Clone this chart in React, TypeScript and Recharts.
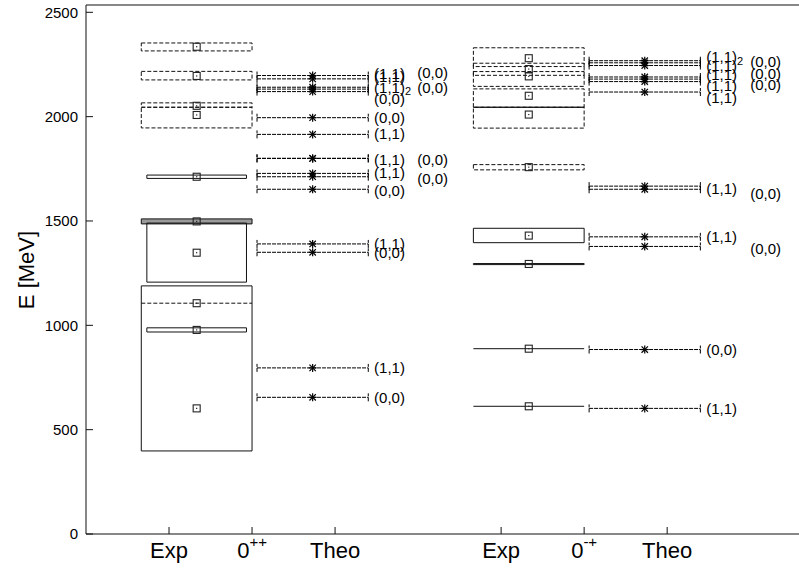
import React from 'react';
import {
  ComposedChart,
  XAxis,
  YAxis,
  Scatter,
  ErrorBar,
  ReferenceArea,
  ReferenceLine,
} from 'recharts';

const FONT = '"Liberation Sans", Arial, Helvetica, sans-serif';

const xTicks = [1, 2, 3, 5, 6, 7];
const xTickLabels = ['Exp', '0++', 'Theo', 'Exp', '0-+', 'Theo'];
const yTicks = [0, 500, 1000, 1500, 2000, 2500];

// 0++ experiment: mass and band edges in MeV
const expPPMass = [2335, 2195, 2052, 2008, 1712, 1498, 1348, 1106, 978, 602];
const expPPLow = [2315, 2176, 2045, 1946, 1704, 1486, 1207, 1106, 968, 398];
const expPPHigh = [2353, 2217, 2066, 2045, 1720, 1510, 1490, 1106, 988, 1189];
const expPPKind = ['dash', 'dash', 'dash', 'dash', 'narrow', 'shade', 'narrow', 'dash', 'narrow', 'solid'];

// 0-+ experiment
const expPMMass = [2280, 2228, 2193, 2100, 2010, 1758, 1430, 1294, 888, 612];
const expPMLow = [2240, 2198, 2145, 2045, 1945, 1745, 1396, 1291, 888, 612];
const expPMHigh = [2330, 2256, 2216, 2133, 2045, 1770, 1465, 1296, 888, 612];
const expPMKind = ['dash', 'dash', 'dash', 'dash', 'dash', 'dash', 'solid', 'solid', 'solid', 'solid'];
const expPMExtraLines = [2045];

// theory levels
const theoPP = [2197, 2181, 2141, 2132, 2120, 1995, 1915, 1800, 1800, 1728, 1712, 1652, 1390, 1350, 796, 655];
const theoPM = [2268, 2258, 2245, 2190, 2180, 2168, 2118, 1667, 1652, 1424, 1378, 884, 602];

// level labels (text, energy)
const labPPLeft: [string, number][] = [
  ['(1,1)', 2205], ['(1,1)', 2192], ['(1,1)_2', 2140], ['(0,0)', 2088],
  ['(0,0)', 1998], ['(1,1)', 1918], ['(1,1)', 1795], ['(1,1)', 1730],
  ['(0,0)', 1648], ['(1,1)', 1392], ['(0,0)', 1348], ['(1,1)', 797], ['(0,0)', 656],
];
const labPPRight: [string, number][] = [
  ['(0,0)', 2212], ['(0,0)', 2138], ['(0,0)', 1795], ['(0,0)', 1702],
];
const labPMLeft: [string, number][] = [
  ['(1,1)_2', 2286], ['(1,1)', 2243], ['(1,1)', 2200], ['(1,1)', 2147], ['(1,1)', 2094],
  ['(1,1)', 1657], ['(1,1)', 1424], ['(0,0)', 884], ['(1,1)', 602],
];
const labPMRight: [string, number][] = [
  ['(0,0)', 2266], ['(0,0)', 2209], ['(0,0)', 2156], ['(0,0)', 1633], ['(0,0)', 1368],
];

// layout in axis units
const PP_EXP = 1.333;
const PP_THEO = 2.73;
const PM_EXP = 5.333;
const PM_THEO = 6.73;
const THEO_HALF = 0.67;

const Square = (p: any) => (
  <g>
    <rect x={p.cx - 3.5} y={p.cy - 3.5} width={7} height={7} fill="none" stroke="#222" strokeWidth={1.1} />
    <rect x={p.cx - 0.6} y={p.cy - 0.6} width={1.2} height={1.2} fill="#222" />
  </g>
);

const Star = (p: any) => {
  const r = 4;
  return (
    <g stroke="#000" strokeWidth={1.2}>
      <line x1={p.cx - r} y1={p.cy} x2={p.cx + r} y2={p.cy} />
      <line x1={p.cx} y1={p.cy - r} x2={p.cx} y2={p.cy + r} />
      <line x1={p.cx - r * 0.8} y1={p.cy - r * 0.8} x2={p.cx + r * 0.8} y2={p.cy + r * 0.8} />
      <line x1={p.cx - r * 0.8} y1={p.cy + r * 0.8} x2={p.cx + r * 0.8} y2={p.cy - r * 0.8} />
    </g>
  );
};

const LevelLabel = (p: any) => {
  const [main, sub] = String(p.payload.t).split('_');
  return (
    <text x={p.cx} y={p.cy} dominantBaseline="central" fontSize={15} fontFamily={FONT} fill="#000">
      {main}
      {sub && (
        <tspan fontSize={11} dy={4}>
          {sub}
        </tspan>
      )}
    </text>
  );
};

const XTick = (p: any) => {
  const lab = xTickLabels[xTicks.indexOf(p.payload.value)] || '';
  const isState = lab.startsWith('0');
  return (
    <text x={p.x} y={p.y} dy="0.72em" textAnchor="middle" fontSize={22} fontFamily={FONT} fill="#000">
      {isState ? '0' : lab}
      {isState && (
        <tspan fontSize={15} dy={-11}>
          {lab.slice(1)}
        </tspan>
      )}
    </text>
  );
};

function expShapes(mass: number[], lo: number[], hi: number[], kind: string[], cx: number, key: string) {
  return kind.map((k, i) => {
    const half = k === 'narrow' ? 0.6 : 0.667;
    const dash = k === 'dash' ? '4 2' : undefined;
    if (lo[i] === hi[i]) {
      return (
        <ReferenceLine
          key={`${key}l${i}`}
          xAxisId="b"
          yAxisId="l"
          segment={[{ x: cx - half, y: mass[i] }, { x: cx + half, y: mass[i] }]}
          stroke="#111"
          strokeWidth={1}
          strokeDasharray={dash}
        />
      );
    }
    return (
      <ReferenceArea
        key={`${key}a${i}`}
        xAxisId="b"
        yAxisId="l"
        x1={cx - half}
        x2={cx + half}
        y1={lo[i]}
        y2={hi[i]}
        fill={k === 'shade' ? '#9a9a9a' : 'none'}
        fillOpacity={1}
        stroke="#111"
        strokeWidth={1}
        strokeDasharray={dash}
      />
    );
  });
}

const labelData = (list: [string, number][], x: number) => list.map(([t, e]) => ({ x, y: e, t }));

export default function App() {
  return (
    <div style={{ position: 'absolute', left: 0, top: 0, width: 799, height: 568, overflow: 'hidden', background: '#fff' }}>
      <ComposedChart width={801} height={568} margin={{ top: 4, right: 0, bottom: 0, left: 0 }}>
        <XAxis
          xAxisId="b"
          type="number"
          dataKey="x"
          domain={[0, 8.6]}
          ticks={xTicks}
          interval={0}
          allowDataOverflow
          orientation="bottom"
          height={34}
          tickSize={-7}
          tickMargin={15}
          stroke="#111"
          tick={(p: any) => <XTick {...p} />}
        />
        <XAxis
          xAxisId="t"
          type="number"
          dataKey="x"
          domain={[0, 8.6]}
          ticks={xTicks}
          interval={0}
          allowDataOverflow
          orientation="top"
          height={1}
          tickSize={-7}
          stroke="#111"
          tick={false}
        />
        <YAxis
          yAxisId="l"
          type="number"
          dataKey="y"
          domain={[0, 2535]}
          ticks={yTicks}
          interval={0}
          allowDataOverflow
          width={86}
          tickSize={-7}
          tickMargin={15}
          stroke="#111"
          tick={{ fill: '#000', fontSize: 15, fontFamily: FONT }}
          label={() => (
            <text
              x={26}
              y={270}
              transform="rotate(-90, 26, 270)"
              textAnchor="middle"
              dominantBaseline="central"
              fontSize={22}
              fontFamily={FONT}
              fill="#000"
            >
              E [MeV]
            </text>
          )}
        />
        <YAxis
          yAxisId="r"
          type="number"
          dataKey="y"
          orientation="right"
          domain={[0, 2535]}
          ticks={yTicks}
          interval={0}
          allowDataOverflow
          width={1}
          tickSize={-7}
          stroke="#111"
          tick={false}
        />

        {expShapes(expPPMass, expPPLow, expPPHigh, expPPKind, PP_EXP, 'pp')}
        {expShapes(expPMMass, expPMLow, expPMHigh, expPMKind, PM_EXP, 'pm')}
        {expPMExtraLines.map((e, i) => (
          <ReferenceLine
            key={`ex${i}`}
            xAxisId="b"
            yAxisId="l"
            segment={[{ x: PM_EXP - 0.667, y: e }, { x: PM_EXP + 0.667, y: e }]}
            stroke="#111"
            strokeWidth={1}
          />
        ))}

        <Scatter
          xAxisId="b"
          yAxisId="l"
          data={expPPMass.map((m) => ({ x: PP_EXP, y: m }))}
          shape={Square}
          isAnimationActive={false}
        />
        <Scatter
          xAxisId="b"
          yAxisId="l"
          data={expPMMass.map((m) => ({ x: PM_EXP, y: m }))}
          shape={Square}
          isAnimationActive={false}
        />

        <Scatter
          xAxisId="b"
          yAxisId="l"
          data={theoPP.map((e) => ({ x: PP_THEO, y: e, ex: THEO_HALF }))}
          shape={Star}
          isAnimationActive={false}
        >
          <ErrorBar dataKey="ex" direction="x" width={4} stroke="#000" strokeWidth={1} strokeDasharray="4 1" isAnimationActive={false} />
        </Scatter>
        <Scatter
          xAxisId="b"
          yAxisId="l"
          data={theoPM.map((e) => ({ x: PM_THEO, y: e, ex: THEO_HALF }))}
          shape={Star}
          isAnimationActive={false}
        >
          <ErrorBar dataKey="ex" direction="x" width={4} stroke="#000" strokeWidth={1} strokeDasharray="4 1" isAnimationActive={false} />
        </Scatter>

        <Scatter xAxisId="b" yAxisId="l" data={labelData(labPPLeft, 3.47)} shape={LevelLabel} isAnimationActive={false} />
        <Scatter xAxisId="b" yAxisId="l" data={labelData(labPPRight, 3.99)} shape={LevelLabel} isAnimationActive={false} />
        <Scatter xAxisId="b" yAxisId="l" data={labelData(labPMLeft, 7.47)} shape={LevelLabel} isAnimationActive={false} />
        <Scatter xAxisId="b" yAxisId="l" data={labelData(labPMRight, 8.0)} shape={LevelLabel} isAnimationActive={false} />
      </ComposedChart>
    </div>
  );
}
